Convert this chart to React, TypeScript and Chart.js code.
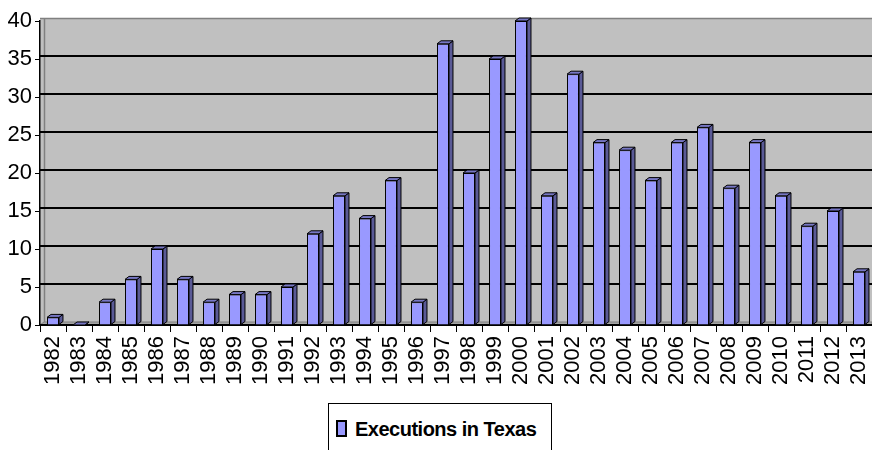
import React, { useEffect, useRef } from "react";
import { Chart, registerables } from "chart.js";

Chart.register(...registerables);

const years = [
  "1982", "1983", "1984", "1985", "1986", "1987", "1988", "1989", "1990", "1991",
  "1992", "1993", "1994", "1995", "1996", "1997", "1998", "1999", "2000", "2001",
  "2002", "2003", "2004", "2005", "2006", "2007", "2008", "2009", "2010", "2011",
  "2012", "2013",
];
const executions = [
  1, 0, 3, 6, 10, 6, 3, 4, 4, 5,
  12, 17, 14, 19, 3, 37, 20, 35, 40, 17,
  33, 24, 23, 19, 24, 26, 18, 24, 17, 13,
  15, 7,
];
const seriesLabel = "Executions in Texas";
const yMin = 0;
const yMax = 40;
const yStep = 5;

const DX = 4;
const DY = 3;
const FRONT = "#9999ff";
const SIDE = "#5a5a96";
const TOP = "#7777c4";

const wallPlugin = {
  id: "wall3d",
  beforeDraw(chart: any) {
    const { ctx, chartArea } = chart;
    const { left, right, bottom } = chartArea;
    const y = chart.scales.y;
    const wallTop = y.getPixelForValue(yMax) - DY;
    ctx.save();
    ctx.fillStyle = "#c0c0c0";
    ctx.fillRect(left, wallTop, right - left, bottom - wallTop);
    // floor
    ctx.beginPath();
    ctx.moveTo(left, bottom);
    ctx.lineTo(left + DX, bottom - DY);
    ctx.lineTo(right, bottom - DY);
    ctx.lineTo(right, bottom);
    ctx.closePath();
    ctx.fillStyle = "#a6a6a6";
    ctx.fill();
    ctx.strokeStyle = "#808080";
    ctx.lineWidth = 1;
    ctx.stroke();
    // wall edges
    ctx.beginPath();
    ctx.moveTo(left + DX + 0.5, wallTop);
    ctx.lineTo(left + DX + 0.5, bottom - DY);
    ctx.moveTo(left, wallTop + 0.5);
    ctx.lineTo(right, wallTop + 0.5);
    ctx.strokeStyle = "#808080";
    ctx.lineWidth = 1.5;
    ctx.stroke();
    // gridlines on back wall
    ctx.strokeStyle = "#000";
    ctx.lineWidth = 2;
    for (let v = yMin + yStep; v < yMax; v += yStep) {
      const py = Math.round(y.getPixelForValue(v) - DY);
      ctx.beginPath();
      ctx.moveTo(left, py);
      ctx.lineTo(right, py);
      ctx.stroke();
    }
    ctx.restore();
  },
};

const bar3dPlugin = {
  id: "bar3d",
  afterDatasetsDraw(chart: any) {
    const { ctx } = chart;
    const meta = chart.getDatasetMeta(0);
    ctx.save();
    ctx.lineWidth = 1;
    ctx.strokeStyle = "#000";
    meta.data.forEach((bar: any) => {
      const { x, y, base, width } = bar.getProps(["x", "y", "base", "width"], true);
      const l = x - width / 2;
      const r = x + width / 2;
      // side
      ctx.beginPath();
      ctx.moveTo(r, y);
      ctx.lineTo(r + DX, y - DY);
      ctx.lineTo(r + DX, base - DY);
      ctx.lineTo(r, base);
      ctx.closePath();
      ctx.fillStyle = SIDE;
      ctx.fill();
      ctx.stroke();
      // top
      ctx.beginPath();
      ctx.moveTo(l, y);
      ctx.lineTo(l + DX, y - DY);
      ctx.lineTo(r + DX, y - DY);
      ctx.lineTo(r, y);
      ctx.closePath();
      ctx.fillStyle = TOP;
      ctx.fill();
      ctx.stroke();
    });
    ctx.restore();
  },
};

export default function App() {
  const canvasRef = useRef<HTMLCanvasElement | null>(null);

  useEffect(() => {
    const canvas = canvasRef.current;
    if (!canvas) return;
    Chart.defaults.font.family = "'Liberation Sans', Arial, sans-serif";
    const chart = new Chart(canvas, {
      type: "bar",
      data: {
        labels: years,
        datasets: [
          {
            label: seriesLabel,
            data: executions,
            backgroundColor: FRONT,
            borderColor: "#000",
            borderWidth: 1,
            barPercentage: 0.46,
            categoryPercentage: 1,
          },
        ],
      },
      options: {
        responsive: false,
        animation: false,
        devicePixelRatio: 1,
        layout: { padding: { top: 21, right: 0, left: 0, bottom: 0 } },
        plugins: {
          legend: { display: false },
          tooltip: { enabled: false },
        },
        scales: {
          x: {
            offset: true,
            grid: {
              offset: true,
              drawOnChartArea: false,
              drawTicks: true,
              tickLength: 7,
              color: "#000",
              lineWidth: 1,
            },
            border: { display: true, color: "#000", width: 2 },
            ticks: {
              color: "#000",
              font: { size: 22 },
              minRotation: 90,
              maxRotation: 90,
              autoSkip: false,
              padding: 4,
            },
            afterFit(s: any) {
              s.height = 125;
              s.paddingRight = 0;
              s.paddingLeft = 0;
            },
          },
          y: {
            min: yMin,
            max: yMax,
            ticks: { stepSize: yStep, color: "#000", font: { size: 22 }, padding: 3 },
            grid: { drawOnChartArea: false, tickLength: 5, color: "#000" },
            border: { display: true, color: "#000", width: 1.5 },
            afterFit(s: any) {
              s.width = 40;
            },
          },
        },
      },
      plugins: [wallPlugin, bar3dPlugin],
    });
    return () => chart.destroy();
  }, []);

  return (
    <div
      style={{
        position: "fixed",
        left: 0,
        top: 0,
        width: 872,
        height: 450,
        background: "#fff",
        overflow: "hidden",
      }}
    >
      <canvas ref={canvasRef} width={872} height={450} style={{ width: 872, height: 450, display: "block" }} />
      <div
        style={{
          position: "absolute",
          left: 328,
          top: 403,
          width: 224,
          height: 70,
          boxSizing: "border-box",
          border: "1.5px solid #000",
          background: "#fff",
          fontFamily: "'Liberation Sans', Arial, sans-serif",
        }}
      >
        <span
          style={{
            position: "absolute",
            left: 7,
            top: 16,
            width: 11,
            height: 17,
            boxSizing: "border-box",
            border: "2px solid #000",
            background: FRONT,
          }}
        />
        <span
          style={{
            position: "absolute",
            left: 26,
            top: 13,
            fontSize: 20,
            fontWeight: "bold",
            letterSpacing: "-0.5px",
            lineHeight: "24px",
            whiteSpace: "nowrap",
            color: "#000",
          }}
        >
          {seriesLabel}
        </span>
      </div>
    </div>
  );
}
